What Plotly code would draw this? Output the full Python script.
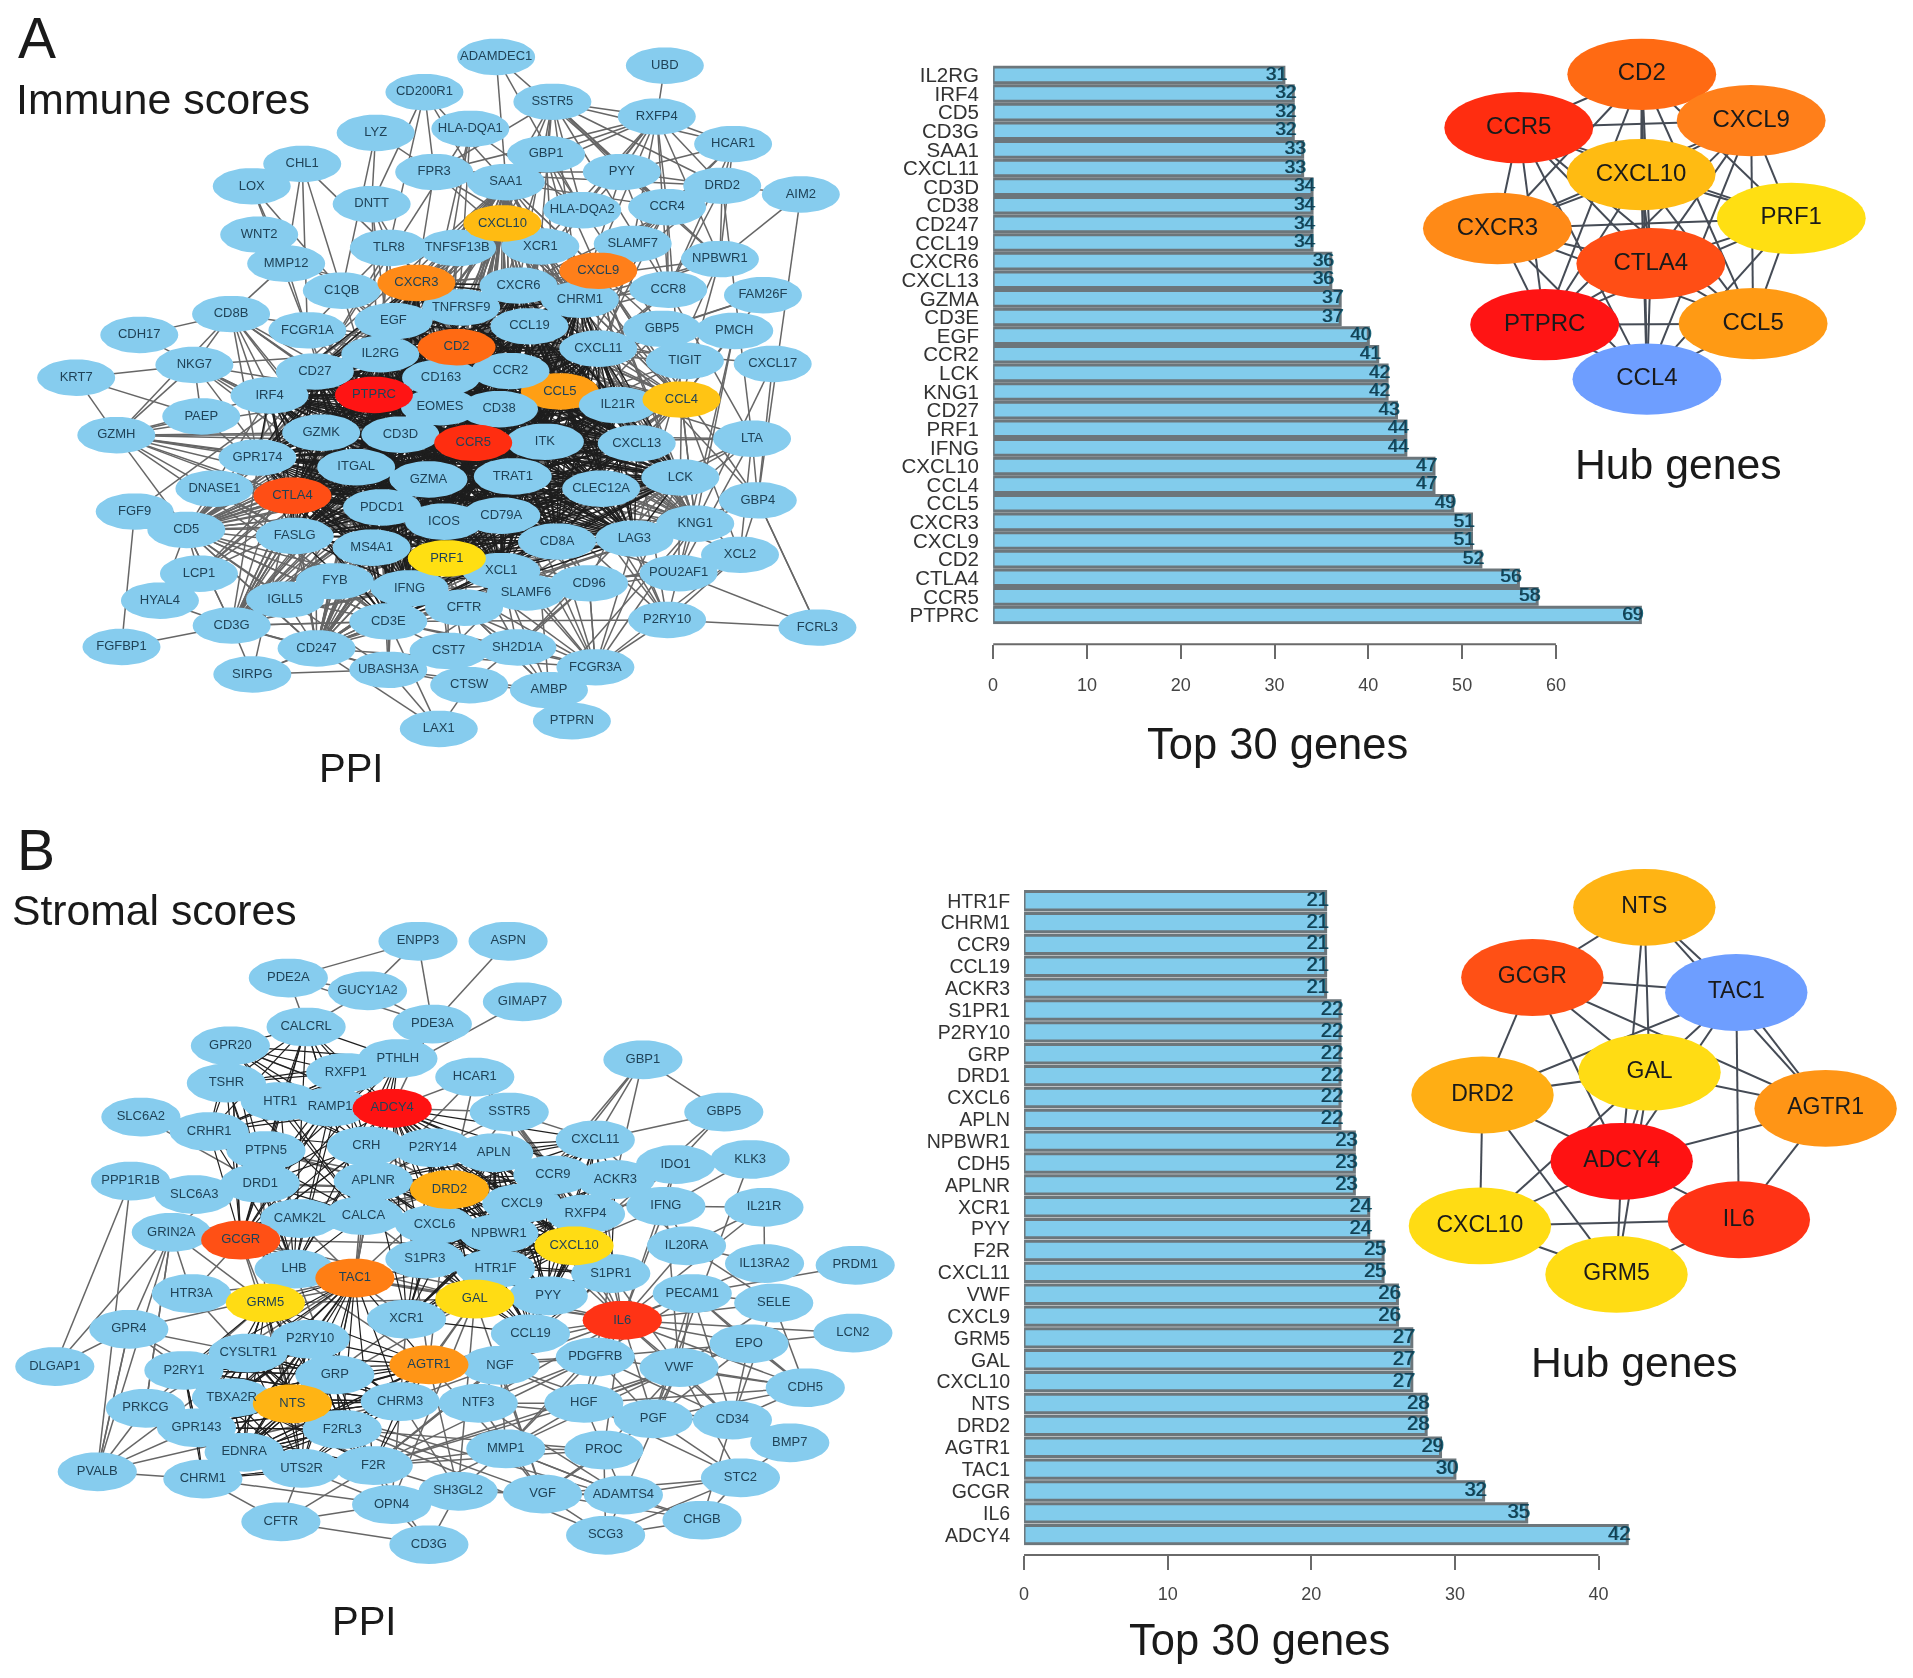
import itertools
import numpy as np
import plotly.graph_objects as go

W, H = 1913, 1678
FONT = "Liberation Sans"

# ---------- bar data ----------
A_GENES = ["IL2RG","IRF4","CD5","CD3G","SAA1","CXCL11","CD3D","CD38","CD247","CCL19","CXCR6","CXCL13","GZMA","CD3E","EGF",
           "CCR2","LCK","KNG1","CD27","PRF1","IFNG","CXCL10","CCL4","CCL5","CXCR3","CXCL9","CD2","CTLA4","CCR5","PTPRC"]
A_COUNTS = [31,32,32,32,33,33,34,34,34,34,36,36,37,37,40,41,42,42,43,44,44,47,47,49,51,51,52,56,58,69]
B_GENES = ["HTR1F","CHRM1","CCR9","CCL19","ACKR3","S1PR1","P2RY10","GRP","DRD1","CXCL6","APLN","NPBWR1","CDH5","APLNR","XCR1",
           "PYY","F2R","CXCL11","VWF","CXCL9","GRM5","GAL","CXCL10","NTS","DRD2","AGTR1","TAC1","GCGR","IL6","ADCY4"]
B_COUNTS = [21,21,21,21,21,22,22,22,22,22,22,23,23,23,24,24,25,25,26,26,27,27,27,28,28,29,30,32,35,42]

# ---------- network A ----------
A_NODES = {
"ADAMDEC1":(863,108),"UBD":(1157,125),"CD200R1":(738,177),"SSTR5":(961,196),"RXFP4":(1143,225),"HLA-DQA1":(818,249),"LYZ":(653,257),
"HCAR1":(1276,279),"GBP1":(950,299),"FPR3":(755,334),"PYY":(1082,334),"CHL1":(525,318),"LOX":(437,362),"SAA1":(880,354),"DRD2":(1257,361),
"AIM2":(1394,378),"DNTT":(646,397),"CCR4":(1161,403),"HLA-DQA2":(1013,409),"CXCL10":(874,435),"WNT2":(450,457),"TLR8":(676,483),
"TNFSF13B":(795,483),"XCR1":(940,480),"SLAMF7":(1101,475),"NPBWR1":(1253,505),"MMP12":(497,514),"CXCL9":(1041,528),"C1QB":(594,567),
"CXCR3":(724,552),"CXCR6":(902,557),"CHRM1":(1009,585),"CCR8":(1163,565),"FAM26F":(1328,576),"CD8B":(401,613),"TNFRSF9":(802,600),
"EGF":(684,627),"FCGR1A":(534,645),"CCL19":(921,637),"GBP5":(1152,642),"PMCH":(1278,646),"CDH17":(241,654),"CD2":(794,678),
"CXCL11":(1041,681),"IL2RG":(661,692),"TIGIT":(1192,705),"NKG7":(337,713),"CXCL17":(1345,711),"CD27":(547,726),"CD163":(767,738),
"CCR2":(888,725),"KRT7":(131,738),"IRF4":(468,773),"PTPRC":(650,772),"CCL5":(974,765),"CCL4":(1186,781),"IL21R":(1075,792),
"EOMES":(765,796),"CD38":(868,800),"PAEP":(349,814),"GZMK":(558,846),"CD3D":(696,850),"CCR5":(823,866),"ITK":(948,864),
"CXCL13":(1108,867),"LTA":(1309,858),"GZMH":(201,851),"GPR174":(447,895),"ITGAL":(619,914),"GZMA":(745,938),"TRAT1":(892,932),
"LCK":(1184,934),"CLEC12A":(1046,956),"DNASE1":(372,956),"CTLA4":(508,970),"GBP4":(1319,979),"FGF9":(233,1001),"PDCD1":(664,993),
"ICOS":(772,1021),"CD79A":(872,1009),"KNG1":(1210,1025),"CD5":(323,1037),"FASLG":(512,1049),"CD8A":(969,1060),"LAG3":(1104,1054),
"MS4A1":(646,1072),"PRF1":(777,1093),"XCL2":(1288,1086),"XCL1":(872,1118),"POU2AF1":(1181,1122),"LCP1":(345,1123),"FYB":(582,1138),
"CD96":(1025,1142),"IFNG":(712,1152),"SLAMF6":(915,1160),"HYAL4":(277,1176),"IGLL5":(495,1174),"CFTR":(807,1190),"P2RY10":(1161,1214),
"CD3G":(402,1225),"CD3E":(675,1217),"FCRL3":(1423,1229),"FGFBP1":(210,1267),"CD247":(550,1270),"CST7":(780,1275),"SH2D1A":(900,1268),
"FCGR3A":(1036,1307),"SIRPG":(438,1321),"UBASH3A":(675,1312),"CTSW":(816,1342),"AMBP":(955,1352),"PTPRN":(995,1413),"LAX1":(763,1428),
}
A_HUB_COLOURS = {"PTPRC":"#FF1414","CCR5":"#FF2D10","CTLA4":"#FF4E15","CD2":"#FF6A13","CXCL9":"#FF7F1A","CXCR3":"#FF8A17",
                 "CCL5":"#FF9F14","CCL4":"#FFC414","CXCL10":"#FFBB12","PRF1":"#FFDF12"}
A_UNDER = ["CCL5"]
A_CORE = "CCR5 PTPRC CTLA4 CD2 ITGAL GZMA PDCD1 ICOS CD79A TRAT1 CD8A LAG3 MS4A1 CLEC12A CXCL13 ITK GZMK CD3D LCK IL21R CD38 CCR2 CCL5 CXCL11 GPR174 FASLG CCL19 CXCR6 CHRM1 CXCR3 CD27 IL2RG IRF4 EGF PRF1 XCL1 CD3E IFNG"
A_SPOKES = {
"ADAMDEC1":"SAA1 CCR4 HLA-DQA2","UBD":"RXFP4","CD200R1":"FPR3 DNTT SAA1 CXCL10 TLR8",
"SSTR5":"FPR3 SAA1 GBP1 PYY RXFP4 DRD2 CCR4 CXCR6 CHRM1 NPBWR1 CCR8 HLA-DQA2 XCR1 CXCL10 HCAR1",
"RXFP4":"FPR3 SAA1 PYY DRD2 CCR4 CHRM1 NPBWR1 CCR8 HCAR1 HLA-DQA2 CXCR6 XCR1 GBP1 SLAMF7",
"HLA-DQA1":"CD2 HLA-DQA2 CD3D CD27 CD3E","LYZ":"FPR3 DNTT C1QB","HCAR1":"PYY DRD2 NPBWR1 CCR8 CCR4 CHRM1",
"GBP1":"CXCL10 CXCL9 CXCL11 CCL5 GBP5 IFNG","FPR3":"SAA1 CXCR3 PYY DRD2 CCR4 CXCL9 CHRM1","PYY":"DRD2 NPBWR1 CCR8 CHRM1 CXCR6 CCR4",
"DRD2":"NPBWR1 CCR8 CCR4 CHRM1 AIM2 CXCR6 LTA","CHL1":"TLR8 C1QB MMP12 FCGR1A","LOX":"MMP12 C1QB FCGR1A","WNT2":"MMP12 EGF",
"MMP12":"CD8B TIGIT FCGR1A","DNTT":"TLR8 CD3D CD3E CD2","TLR8":"CD27 IL2RG PTPRC CXCL10 IFNG FCGR1A CCL5","TNFSF13B":"IL2RG CD27 EOMES ICOS",
"AIM2":"NPBWR1 GBP4","FAM26F":"CCL4 GBP5 CXCL11","CCR8":"CHRM1 CCR4 CXCL11 CCL5 CCL19 LTA","CCR4":"CXCL9 CXCL11 CCL5 CCL19 CCR2 CHRM1 CCL4",
"NPBWR1":"CXCR6 CCL4 CHRM1 CCL19 CXCL13","SLAMF7":"CD8A GZMA PRF1 CD2","TIGIT":"CD2 CTLA4 LAG3 CD96 PDCD1","GBP5":"CXCL9 CXCL11 CCL5 IFNG",
"CXCL17":"GBP4 CXCL11 KNG1","PMCH":"CCL4 KNG1 POU2AF1","LTA":"CD2 LCK CCR5 CD3D IFNG XCL2 GBP4 LAG3 POU2AF1","GBP4":"CXCL10 FCRL3 CXCL9 IFNG KNG1 XCL2",
"XCL2":"CCR5 CCL4 CCL5 P2RY10 CD96 FCGR3A","FCRL3":"POU2AF1 P2RY10 GBP4","CD8B":"CDH17 CD8A CD3D CD3E CD2 GZMK NKG7 ITGAL CD27 CTLA4 PTPRC GZMH",
"NKG7":"CDH17 KRT7 PAEP GZMK PRF1 CD8A GZMA CTLA4 GZMH CD2 PTPRC ITGAL","PAEP":"CTLA4 KRT7 GZMH","KRT7":"GZMH","GZMH":"GZMA GZMK CD3D CD3E CD8A PRF1 PTPRC CD5 CTLA4 GPR174 CCR5 FASLG ITGAL CD2",
"GPR174":"CD8B CTLA4 CCR5 CXCR3","FGF9":"FGFBP1 CD5 EGF","CD5":"LCP1 CD247 ICOS FYB IGLL5 CD3D CD3E CD2 PTPRC LCK CTLA4",
"LCP1":"PTPRC CD3D CD2 CCR5 CTLA4 HYAL4","HYAL4":"CD5 CD3G","IGLL5":"CD79A CD3D CD3E PTPRC POU2AF1 MS4A1 CD247","FGFBP1":"CD3G","SIRPG":"UBASH3A CD3G CD3E CTLA4 CD247",
"UBASH3A":"CD247 CD3E CD3D LAX1 CST7 CD5 PTPRC LCK CD3G CTSW","LAX1":"CD3E CTSW CD247","CST7":"CD8A CTSW PRF1 CD3E GZMA SH2D1A","SH2D1A":"CD2 CTLA4 CD3D CD3E CD96 FCGR3A LCK AMBP CST7",
"CTSW":"AMBP PRF1 CD96","AMBP":"KNG1 FCGR3A CFTR SAA1 UBASH3A EGF","PTPRN":"AMBP","FCGR3A":"CD8A CD2 IFNG CCR5 PTPRC LCK KNG1 CD96 CD3E CD247 GZMA PRF1 CTLA4 LAG3 P2RY10",
"P2RY10":"CCR2 CXCL10 CXCR3 CCL5 CD3E CCR5 CXCL13 POU2AF1","POU2AF1":"CD79A IGLL5 KNG1 CD3E LCK","CD96":"PRF1 CTLA4 CD3E CD2 CD3D FCGR3A CD8A","SLAMF6":"PTPRC CD2 CD3E LCK ICOS CD247 CFTR",
"CFTR":"CD3E CD3D AMBP SAA1","FYB":"PTPRC LCK CD3E CD247 CD2 ITK","MS4A1":"CD79A PTPRC CD27 CD3D IGLL5",
"KNG1":"SAA1 EGF CCL4 LCK CCR2","CD3G":"CD5 CD247 CD3D CD3E LCK PTPRC CCR5 CTLA4 GZMA ICOS","SAA1":"CCR2 CCL5 CXCL9 CXCL10 CXCR3 CCR5",
"CD247":"CD3D CD3E LCK PTPRC CD2 CTLA4 CCR5 IFNG PRF1 GZMA","CXCL10":"CXCL9 CXCR3 CCL5 CCL4 CCR5 IFNG CCR2 XCR1 CCL19 CXCL13 PTPRC CD2","CXCL9":"CXCR3 CCL5 CCL4 CCR5 IFNG CCR2 CCL19 CXCL13 GZMA",
"CCL4":"CCR5 CCL5 CCR2 IFNG PRF1 PTPRC CD8A CXCR3 CXCL13 GZMA","XCR1":"CCL5 CCL19 CCR2 CXCL9 CCR5 CCL4 CHRM1","FCGR1A":"PTPRC CD2 CCR5 CD3E IFNG CD38 CD163","C1QB":"PTPRC CD163 CCR5 CD38",
"EOMES":"CD8A IFNG PRF1 GZMA PTPRC CTLA4 CD27 CD3E CCR5 CD38","CD163":"PTPRC CD2 IL2RG CCR5 CD38 CTLA4","TNFRSF9":"CTLA4 CD27 PTPRC IFNG IL2RG",
"DNASE1":"PTPRC CD3E FASLG PDCD1",
}

# ---------- network B ----------
B_NODES = {
"ENPP3":(728,248),"ASPN":(885,248),"PDE2A":(502,314),"GUCY1A2":(640,337),"GIMAP7":(910,357),"PDE3A":(753,397),"CALCRL":(533,402),"GPR20":(401,436),
"PTHLH":(693,459),"GBP1":(1120,461),"RXFP1":(602,484),"HCAR1":(827,492),"TSHR":(394,503),"HTR1":(488,536),"RAMP1":(575,546),"ADCY4":(683,548),
"SSTR5":(887,555),"GBP5":(1261,555),"SLC6A2":(245,564),"CRHR1":(364,590),"CXCL11":(1037,605),"CRH":(638,616),"P2RY14":(754,619),"PTPN5":(463,624),
"APLN":(860,628),"KLK3":(1307,640),"IDO1":(1177,649),"CCR9":(963,668),"ACKR3":(1072,676),"PPP1R1B":(227,679),"APLNR":(650,679),"DRD1":(453,683),
"DRD2":(783,694),"SLC6A3":(338,703),"CXCL9":(909,719),"IFNG":(1160,724),"IL21R":(1331,726),"RXFP4":(1020,738),"CAMK2L":(522,746),"CALCA":(633,741),
"CXCL6":(757,757),"NPBWR1":(869,773),"GRIN2A":(298,771),"GCGR":(419,785),"CXCL10":(1000,795),"IL20RA":(1196,795),"S1PR3":(740,819),"IL13RA2":(1332,827),
"PRDM1":(1490,830),"LHB":(512,837),"HTR1F":(863,836),"TAC1":(618,853),"S1PR1":(1064,845),"PECAM1":(1206,881),"HTR3A":(333,881),"PYY":(955,885),
"GAL":(827,891),"GRM5":(462,898),"SELE":(1348,898),"XCR1":(708,927),"IL6":(1084,929),"GPR4":(224,945),"CCL19":(924,953),"LCN2":(1486,952),"EPO":(1305,971),
"P2RY10":(540,963),"CYSLTR1":(432,988),"PDGFRB":(1037,995),"NGF":(871,1010),"AGTR1":(747,1009),"DLGAP1":(95,1012),"VWF":(1183,1014),"P2RY1":(320,1019),
"GRP":(583,1027),"CDH5":(1403,1050),"TBXA2R":(403,1068),"CHRM3":(697,1075),"NTS":(509,1079),"NTF3":(833,1078),"HGF":(1017,1078),"PRKCG":(253,1087),
"PGF":(1138,1106),"CD34":(1276,1108),"GPR143":(342,1122),"F2RL3":(596,1125),"BMP7":(1376,1149),"MMP1":(881,1160),"PROC":(1052,1162),"EDNRA":(425,1166),
"F2R":(650,1190),"UTS2R":(525,1195),"PVALB":(169,1201),"STC2":(1290,1212),"CHRM1":(353,1214),"SH3GL2":(798,1236),"VGF":(945,1241),"ADAMTS4":(1086,1243),
"OPN4":(682,1260),"CHGB":(1223,1288),"CFTR":(489,1291),"SCG3":(1055,1315),"CD3G":(747,1332),
}
B_HUB_COLOURS = {"ADCY4":"#FF1212","GCGR":"#FF5015","IL6":"#FF3315","TAC1":"#FF7E14","AGTR1":"#FF9516","DRD2":"#FFAE14","NTS":"#FFB414",
                 "GAL":"#FFDC14","GRM5":"#FFDC14","CXCL10":"#FFDC14"}
B_GROUPS = [
 "ADCY4 GCGR DRD1 CRH CRHR1 RAMP1 CALCA CALCRL HTR1 PTHLH RXFP1 TSHR GPR20 LHB",
 "ADCY4 DRD2 CCR9 CXCL9 CXCL10 CXCL11 APLN APLNR S1PR1 S1PR3 NPBWR1 HTR1F P2RY14 CXCL6 XCR1 PYY RXFP4 GAL CCL19 ACKR3",
 "TAC1 GRM5 NTS GRP AGTR1 TBXA2R P2RY1 P2RY10 CYSLTR1 F2R F2RL3 EDNRA UTS2R CHRM1 CHRM3 GPR143",
 "NTS GRP TBXA2R P2RY1 CYSLTR1 P2RY10 F2RL3 GPR143 EDNRA CHRM3",
 "DRD2 APLN CCR9 CXCL9 NPBWR1 CXCL6 S1PR3 HTR1F CXCL10 PYY",
]
B_SPOKES = {
"ENPP3":"PDE2A GUCY1A2 PDE3A","ASPN":"PDE3A","PDE2A":"GUCY1A2 PDE3A CALCRL","GUCY1A2":"PDE3A CALCRL","GIMAP7":"RAMP1","PDE3A":"ADCY4 PTHLH",
"GPR20":"ADCY4 GCGR","HCAR1":"ADCY4 APLNR SSTR5 RXFP4 DRD2","SSTR5":"ADCY4 APLNR DRD2 CCR9 CXCL11 RXFP4 S1PR1 CXCL9",
"GBP1":"CXCL11 GBP5 CCR9 ACKR3 CXCL9","GBP5":"IDO1 CXCL10 CXCL11","SLC6A2":"CRHR1 DRD1","SLC6A3":"DRD1 DRD2 PPP1R1B","PPP1R1B":"DRD1 DRD2 PVALB",
"PTPN5":"GRIN2A DRD1 CAMK2L DRD2 APLNR","CAMK2L":"GRIN2A DRD1 DRD2 GRM5","GRIN2A":"GRM5 DLGAP1 PRKCG PVALB HTR3A GPR4","DLGAP1":"GPR4 PPP1R1B",
"HTR3A":"TAC1 GRM5 GCGR NTS","LHB":"TAC1 GAL","GPR4":"PVALB TAC1 CYSLTR1 P2RY1 F2R","PRKCG":"GRM5 PVALB GRIN2A TAC1","PVALB":"CHRM1 CHRM3 GPR143 GPR4 TAC1",
"GCGR":"TAC1 GAL GRM5 AGTR1 NTS DRD2 IL6 CXCL10","TAC1":"IL6 GAL DRD2 CXCL10 GRP XCR1 APLNR","GAL":"GRM5 IL6 AGTR1 NTS DRD2 CHRM3 OPN4","AGTR1":"IL6 NTS ADCY4 DRD2 EDNRA PDGFRB NGF",
"IL6":"ADCY4 PECAM1 PGF VWF HGF PDGFRB NGF SELE EPO CD34 IL20RA IFNG IDO1 IL21R IL13RA2 CCL19 CXCL10 CXCL9 CXCL11 MMP1 CDH5 PROC S1PR1 LCN2 NTF3 CCR9",
"IFNG":"IDO1 CXCL9 CXCL10 CXCL11 IL21R IL20RA VWF KLK3","KLK3":"IDO1 PGF","IL21R":"IL20RA IL13RA2","IL13RA2":"IL20RA","PRDM1":"PECAM1","PECAM1":"VWF SELE CDH5 CD34 PGF EPO PDGFRB",
"SELE":"VWF CDH5 CD34 IL20RA","LCN2":"EPO","EPO":"PGF VWF HGF CD34 PDGFRB CDH5","VWF":"CDH5 CD34 PGF HGF F2R PROC MMP1 STC2 ADAMTS4","CDH5":"CD34 PGF HGF PDGFRB","CD34":"PGF HGF BMP7 PDGFRB CHGB",
"PGF":"HGF PDGFRB NTF3 NGF STC2 VGF","BMP7":"STC2","PDGFRB":"HGF NGF NTF3 MMP1","NGF":"NTF3 HGF VGF MMP1 CHRM3 F2R","NTF3":"HGF VGF CHRM3 ADAMTS4","HGF":"MMP1 PROC F2R STC2","MMP1":"PROC ADAMTS4 F2R SH3GL2 VGF AGTR1 OPN4",
"PROC":"F2R ADAMTS4 F2RL3 SCG3 VGF","STC2":"ADAMTS4 CHGB SCG3 VGF","CHGB":"SCG3 VGF ADAMTS4 NTS","SCG3":"VGF ADAMTS4 NTS","VGF":"ADAMTS4 NTS SH3GL2 GAL","ADAMTS4":"MMP1 SH3GL2","SH3GL2":"OPN4 CD3G F2R AGTR1 GAL CHRM3","OPN4":"CFTR F2R CHRM1 CHRM3 UTS2R",
"CFTR":"CD3G UTS2R CHRM1 F2R","CD3G":"OPN4 F2R","ACKR3":"IFNG IL20RA","S1PR1":"F2R VWF PDGFRB CXCL10","F2R":"PDGFRB NGF","XCR1":"NTS CHRM3","CXCL10":"IDO1 GRM5","DRD1":"GRM5 NTS TAC1 DRD2 GCGR GRP","CRHR1":"APLNR DRD1","RXFP4":"IDO1",
"CRH":"TAC1 DRD2 APLNR GCGR","CALCA":"TAC1 GCGR GAL DRD2 CAMK2L","APLNR":"TAC1 GCGR GAL",
}

# ---------- hub networks ----------
A_HUB = {"CD2":(1149,142,"#FF6A13"),"CCR5":(959,247,"#FF2D10"),"CXCL9":(1318,233,"#FF7F1A"),"CXCL10":(1148,339,"#FFBB12"),"PRF1":(1380,425,"#FFDF12"),
         "CXCR3":(926,445,"#FF8A17"),"CTLA4":(1163,514,"#FF4E15"),"PTPRC":(999,634,"#FF1414"),"CCL5":(1321,632,"#FF9A14"),"CCL4":(1157,741,"#6E9EFF")}
B_HUB = {"NTS":(1153,188,"#FFB414"),"GCGR":(980,314,"#FF5015"),"TAC1":(1295,341,"#6E9EFF"),"GAL":(1161,484,"#FFDC14"),"DRD2":(903,525,"#FFAE14"),
         "AGTR1":(1433,549,"#FF9516"),"ADCY4":(1118,644,"#FF1212"),"IL6":(1299,749,"#FF3315"),"CXCL10":(899,760,"#FFDC14"),"GRM5":(1110,847,"#FFDC14")}
B_HUB_EDGES = ["NTS GCGR","NTS TAC1","NTS AGTR1","NTS GAL","NTS ADCY4","GCGR TAC1","GCGR GAL","GCGR ADCY4","GCGR AGTR1","GCGR DRD2","TAC1 GAL","TAC1 DRD2",
               "TAC1 IL6","TAC1 AGTR1","TAC1 ADCY4","GAL DRD2","GAL AGTR1","GAL ADCY4","GAL CXCL10","GAL GRM5","DRD2 ADCY4","DRD2 CXCL10","DRD2 GRM5",
               "ADCY4 CXCL10","ADCY4 GRM5","ADCY4 IL6","IL6 CXCL10","IL6 GRM5","IL6 AGTR1","AGTR1 ADCY4","CXCL10 GRM5"]

BLUE = "#86CCEE"
INK = "#1A1A1A"

def frac_x(px): return px / W
def frac_y(py): return 1 - py / H

fig = go.Figure()

def ellipses_xy(centres, rx, ry):
    t = np.linspace(0, 2*np.pi, 41)
    xs, ys = [], []
    for cx, cy in centres:
        xs += list(cx + rx*np.cos(t)) + [None]
        ys += list(cy + ry*np.sin(t)) + [None]
    return xs, ys

def add_edges(pos, pairs, ax, colour, width):
    xs, ys = [], []
    for a, b in pairs:
        if a in pos and b in pos and a != b:
            xs += [pos[a][0], pos[b][0], None]
            ys += [pos[a][1], pos[b][1], None]
    fig.add_trace(go.Scatter(x=xs, y=ys, mode="lines", line=dict(color=colour, width=width), hoverinfo="skip",
                             xaxis="x"+ax, yaxis="y"+ax, showlegend=False, cliponaxis=False))

def add_nodes(centres, colour, rx, ry, ax):
    xs, ys = ellipses_xy(centres, rx, ry)
    fig.add_trace(go.Scatter(x=xs, y=ys, mode="lines", fill="toself", fillcolor=colour, line=dict(width=0, color=colour),
                             hoverinfo="skip", xaxis="x"+ax, yaxis="y"+ax, showlegend=False, cliponaxis=False))

def add_labels(names, xs, ys, size, colour, ax):
    fig.add_trace(go.Scatter(x=xs, y=ys, mode="text", text=names, textposition="middle center",
                             textfont=dict(family=FONT, size=size, color=colour), hoverinfo="skip",
                             xaxis="x"+ax, yaxis="y"+ax, showlegend=False, cliponaxis=False))

def network(nodes, hubs, thin_pairs, dark_pairs, ax, rx, ry, under=(), dark_width=1.2):
    add_edges(nodes, thin_pairs, ax, "#666666", 1.5)
    add_edges(nodes, dark_pairs, ax, "#1E1E1E", dark_width)
    for k in under:
        add_nodes([nodes[k]], hubs[k], rx, ry, ax)
    add_nodes([v for k, v in nodes.items() if k not in hubs], BLUE, rx, ry, ax)
    for k, c in hubs.items():
        if k not in under:
            add_nodes([nodes[k]], c, rx, ry, ax)
    names = list(nodes)
    add_labels(names, [nodes[n][0] for n in names], [nodes[n][1] for n in names], 13, "#1F4257", ax)

def spoke_pairs(spokes):
    out = []
    for k, v in spokes.items():
        out += [(k, t) for t in v.split()]
    return out

network(A_NODES, A_HUB_COLOURS, spoke_pairs(A_SPOKES) + list(itertools.combinations(A_GENES, 2)),
        list(itertools.combinations(A_CORE.split(), 2)), "", 68, 36, A_UNDER, 1.4)

def hub(nodes, pairs, ax, rx, ry, size):
    pos = {k: v[:2] for k, v in nodes.items()}
    add_edges(pos, pairs, ax, "#454B55", 2)
    for k, v in nodes.items():
        add_nodes([v[:2]], v[2], rx, ry, ax)
    names = list(nodes)
    add_labels(names, [nodes[n][0] for n in names], [nodes[n][1] for n in names], size, INK, ax)

hub(A_HUB, list(itertools.combinations(A_HUB, 2)), "2", 115, 70, 24)

def bars(genes, counts, ax, pad, size):
    fig.add_trace(go.Bar(x=counts, y=genes, orientation="h", width=0.84, marker=dict(color="#82CCEC", line=dict(color="#6C767B", width=3)),
                         hoverinfo="skip", xaxis="x"+ax, yaxis="y"+ax, showlegend=False, cliponaxis=False))
    fig.add_trace(go.Scatter(x=[c + pad for c in counts], y=genes, mode="text", text=[str(c) for c in counts], textposition="middle left",
                             textfont=dict(family=FONT, size=size, color="#143E52", shadow="1px 0 0 #1C6A7E"), hoverinfo="skip",
                             xaxis="x"+ax, yaxis="y"+ax, showlegend=False, cliponaxis=False))

bars(A_GENES, A_COUNTS, "3", 0.3, 19)

b_thin = spoke_pairs(B_SPOKES)
b_dark = []
for g in B_GROUPS:
    b_dark += list(itertools.combinations(g.split(), 2))
network(B_NODES, B_HUB_COLOURS, b_thin, b_dark, "4", 69, 35)
hub(B_HUB, [tuple(e.split()) for e in B_HUB_EDGES], "5", 110, 69, 23)
bars(B_GENES, B_COUNTS, "6", 0.2, 20)

def panel(ax, left, top, w, h):
    hidden = dict(visible=False, showgrid=False, zeroline=False, fixedrange=True)
    fig.layout[f"xaxis{ax}"] = dict(hidden, domain=[frac_x(max(left, 0)), frac_x(min(left+w, W))],
                                    range=[1568*(max(left, 0)-left)/w, 1568*(min(left+w, W)-left)/w], anchor=f"y{ax}")
    fig.layout[f"yaxis{ax}"] = dict(hidden, domain=[frac_y(top+h), frac_y(top)], range=[1568, 0], anchor=f"x{ax}")

panel("", -4, 0, 902, 800)
panel("2", 895.3, 0, 1017.7, 800)
panel("4", -4.7, 803, 902, 875)
panel("5", 895.3, 802.5, 1017.7, 875.5)

SHAPES = []
def bar_axes(ax, x0, x_tick_max, px_per_unit, xmax, ytop, ybot, axis_y, genes, size, tick, standoff):
    fig.layout[f"xaxis{ax}"] = dict(domain=[frac_x(x0), frac_x(x0 + xmax*px_per_unit)], range=[0, xmax], anchor="free", position=frac_y(axis_y),
                                    showline=False, ticks="outside", ticklen=14, tickwidth=2, tickcolor="#6A6A6A",
                                    tickmode="array", tickvals=list(range(0, x_tick_max+1, 10)), showgrid=False, zeroline=False, ticklabelstandoff=standoff,
                                    tickfont=dict(family=FONT, size=tick, color="#444444"), fixedrange=True)
    fig.layout[f"yaxis{ax}"] = dict(domain=[frac_y(ybot), frac_y(ytop)], type="category", range=[29.5, -0.5], anchor=f"x{ax}",
                                    tickmode="array", tickvals=genes, ticktext=genes, showline=False, showgrid=False, zeroline=False,
                                    ticks="outside", ticklen=9, tickcolor="rgba(0,0,0,0)",
                                    tickfont=dict(family=FONT, size=size, color="#333333"), fixedrange=True)
    SHAPES.append(dict(type="line", xref=f"x{ax}", yref="paper", x0=0, x1=x_tick_max, y0=frac_y(axis_y), y1=frac_y(axis_y),
                       line=dict(color="#6A6A6A", width=2)))

bar_axes("3", 990.7, 60, (1555-990.7)/60, 72, 63.7, 623.8, 643.7, A_GENES, 20.5, 18, 10)
bar_axes("6", 1021.7, 40, (1597.7-1021.7)/40, 44, 889.9, 1547.3, 1556.7, B_GENES, 19.5, 18, 8)

texts = [("A", 32, 36, 57), ("Immune scores", 158, 97, 43), ("PPI", 347, 768, 40), ("Top 30 genes", 1276, 744, 43.5), ("Hub genes", 1677, 463, 42.7),
         ("B", 31, 850, 57), ("Stromal scores", 149.5, 910, 42.7), ("PPI", 360, 1623, 40), ("Top 30 genes", 1258, 1642, 43.5), ("Hub genes", 1633, 1363, 42.7)]
fig.update_layout(
    width=W, height=H, margin=dict(l=0, r=0, t=0, b=0), paper_bgcolor="white", plot_bgcolor="rgba(0,0,0,0)",
    showlegend=False, shapes=SHAPES,
    annotations=[dict(text=t, x=frac_x(x), y=frac_y(y), xref="paper", yref="paper", xanchor="center", yanchor="middle", showarrow=False,
                      font=dict(family=FONT, size=s, color=INK)) for t, x, y, s in texts],
)
fig.write_html("out.html", config={"displayModeBar": False},
               post_script="document.body.style.margin='0';document.body.style.overflow='hidden';"
                           "document.querySelector('.plotly-graph-div').style.filter='blur(0.6px)';")
